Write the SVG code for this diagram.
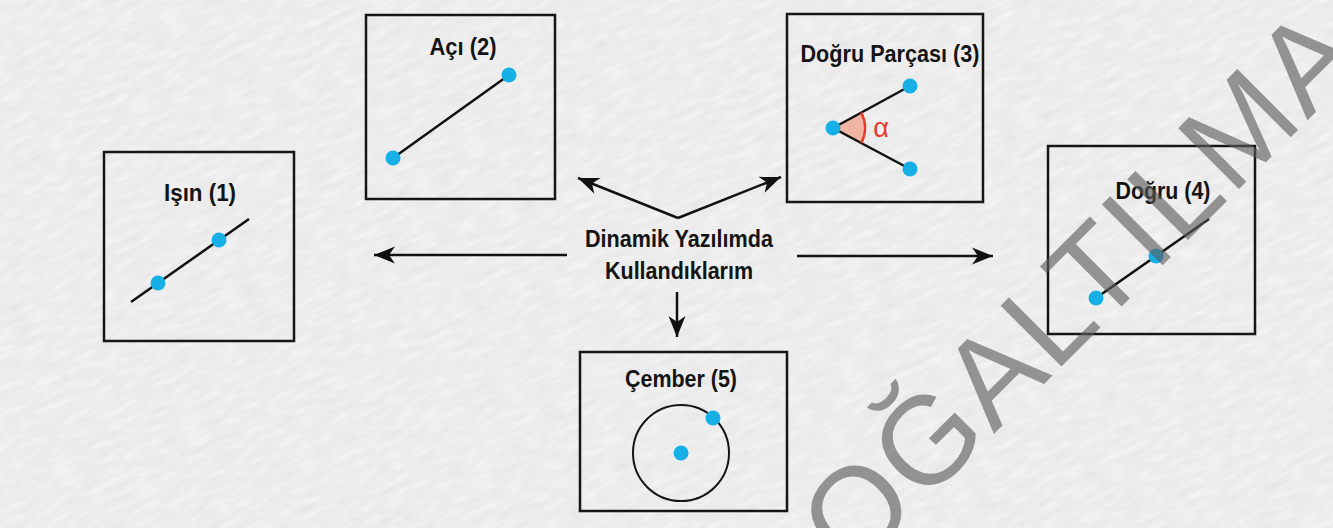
<svg xmlns="http://www.w3.org/2000/svg" width="1333" height="528" viewBox="0 0 1333 528">
<defs>
<filter id="paper" x="0" y="0" width="100%" height="100%">
<feTurbulence type="fractalNoise" baseFrequency="0.045 0.16" numOctaves="4" seed="11" result="n"/>
<feColorMatrix in="n" type="matrix" values="0 0 0 0 1  0 0 0 0 1  0 0 0 0 1  1.8 0 0 0 -0.8" result="w"/>
<feColorMatrix in="n" type="matrix" values="0 0 0 0 0.6  0 0 0 0 0.6  0 0 0 0 0.6  -1.5 0 0 0 0.5" result="d"/>
<feMerge><feMergeNode in="d"/><feMergeNode in="w"/></feMerge>
</filter>
<marker id="ah" viewBox="-22 -10 24 20" refX="0" refY="0" markerWidth="24" markerHeight="20" markerUnits="userSpaceOnUse" orient="auto">
<path d="M0,0 L-21,-8.5 L-15,0 L-21,8.5 Z" fill="#111"/>
</marker>
</defs>
<style>
.box{fill:none;stroke:#161616;stroke-width:2.5}
.ttl{font-family:"Liberation Sans",Arial,sans-serif;font-weight:bold;font-size:23px;fill:#141414;text-anchor:middle}
.seg{stroke:#111;stroke-width:2.5;fill:none}
.dot{fill:#17b0e6}
.conn{stroke:#111;stroke-width:2.5;fill:none;marker-end:url(#ah)}
</style>
<rect width="1333" height="528" fill="#ebebeb"/>
<g transform="rotate(-25 666 264)">
<rect x="-300" y="-500" width="1933" height="1528" filter="url(#paper)" opacity="0.6"/>
</g>

<g id="connectors">
<path class="conn" d="M678,218 L578,178"/>
<path class="conn" d="M678,218 L781,177"/>
<path class="conn" d="M567,255 L374,255"/>
<path class="conn" d="M797,256 L993,256"/>
<path class="conn" d="M677,292 L677,337"/>
</g>

<g id="center">
<text class="ttl" x="679" y="247" font-size="24" textLength="188" lengthAdjust="spacingAndGlyphs">Dinamik Yazılımda</text>
<text class="ttl" x="679" y="279" font-size="24" textLength="148" lengthAdjust="spacingAndGlyphs">Kullandıklarım</text>
</g>

<g id="isin">
<rect class="box" x="104" y="152" width="190" height="189"/>
<text class="ttl" x="200" y="201" textLength="72" lengthAdjust="spacingAndGlyphs">Işın (1)</text>
<line class="seg" x1="131" y1="302" x2="249" y2="219"/>
<circle class="dot" cx="158" cy="283" r="7.5"/>
<circle class="dot" cx="219" cy="240" r="7.5"/>
</g>

<g id="aci">
<rect class="box" x="366" y="15" width="189" height="184"/>
<text class="ttl" x="463" y="55" textLength="67" lengthAdjust="spacingAndGlyphs">Açı (2)</text>
<line class="seg" x1="393" y1="158" x2="509" y2="75"/>
<circle class="dot" cx="393" cy="158" r="7.5"/>
<circle class="dot" cx="509" cy="75" r="7.5"/>
</g>

<g id="dogru-parcasi">
<rect class="box" x="787" y="14" width="196" height="188"/>
<text class="ttl" x="890" y="62" textLength="179" lengthAdjust="spacingAndGlyphs">Doğru Parçası (3)</text>
<path d="M833,128 L861.1,112.7 A32,32 0 0 1 861.3,143 Z" fill="#f0b4a2"/>
<line class="seg" x1="833" y1="128" x2="910" y2="86"/>
<line class="seg" x1="833" y1="128" x2="910" y2="169"/>
<path d="M861.1,112.7 A32,32 0 0 1 861.3,143" fill="none" stroke="#e8392c" stroke-width="2.5"/>
<text x="881" y="137" font-family="'Liberation Sans',Arial,sans-serif" font-size="27" fill="#e8392c" text-anchor="middle">α</text>
<circle class="dot" cx="833" cy="128" r="7.5"/>
<circle class="dot" cx="910" cy="86" r="7.5"/>
<circle class="dot" cx="910" cy="169" r="7.5"/>
</g>

<g id="dogru">
<rect class="box" x="1048" y="146" width="207" height="188"/>
<text class="ttl" x="1163" y="199" textLength="95" lengthAdjust="spacingAndGlyphs">Doğru (4)</text>
<line class="seg" x1="1096" y1="298" x2="1209" y2="219"/>
<circle class="dot" cx="1096" cy="298" r="7.5"/>
<circle class="dot" cx="1156" cy="256" r="7.5"/>
</g>

<g id="cember">
<rect class="box" x="580" y="352" width="207" height="159"/>
<text class="ttl" x="681" y="387" textLength="112" lengthAdjust="spacingAndGlyphs">Çember (5)</text>
<circle cx="681" cy="453" r="48" fill="none" stroke="#151515" stroke-width="2"/>
<circle class="dot" cx="681" cy="453" r="7.5"/>
<circle class="dot" cx="713" cy="418" r="7.5"/>
</g>

<g id="watermark">
<text transform="translate(787,641) rotate(-45)" x="0" y="0" font-family="'Liberation Sans',Arial,sans-serif" font-size="125" letter-spacing="2.5" fill="#5a5a5a" fill-opacity="0.62">ÇOĞALTILMAZ</text>
</g>
</svg>
